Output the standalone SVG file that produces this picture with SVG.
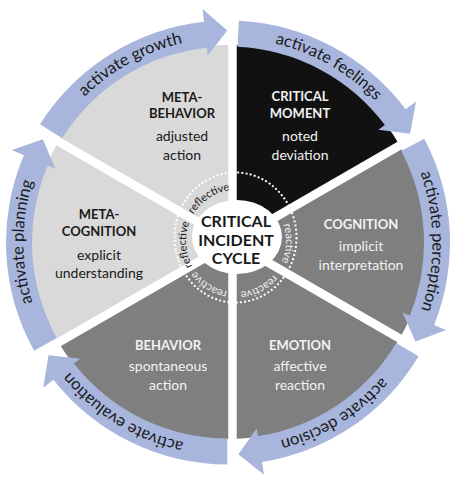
<svg xmlns="http://www.w3.org/2000/svg" width="452" height="480" viewBox="0 0 452 480">
<defs>
<style>
.light{fill:#d9d9d9}
.dark{fill:#7f7f7f}
.black{fill:#111111}
.arrow{fill:#a8b5dc}
.title{font-family:Lato,"Open Sans",sans-serif;font-weight:700;font-size:13px;text-anchor:middle}
.desc{font-family:Lato,"Open Sans",sans-serif;font-size:14px;text-anchor:middle}
.ondark{fill:#f2f2f2}
.onlight{fill:#1a1a1a}
.alabel{font-family:Lato,"Open Sans",sans-serif;font-size:16.5px;fill:#1a1a1a;text-anchor:middle}
.rlabel{font-family:Lato,"Open Sans",sans-serif;font-size:11px;text-anchor:middle}
.ctext{font-family:Lato,"Open Sans",sans-serif;font-weight:700;font-size:16px;fill:#1a1a1a;text-anchor:middle}
.spoke{stroke:#ffffff;stroke-width:8.5}
</style>
<path id="ringPath" d="M228,38 A204.5,204.5 0 1 1 228,447 A204.5,204.5 0 1 1 228,38"/>
<path id="hubPath" d="M236,190 A50,51 0 1 1 236,292 A50,51 0 1 1 236,190"/>
</defs>
<rect width="452" height="480" fill="#ffffff"/>

<g id="critical-moment">
<path class="black" d="M232.5,242 L232.5,45.05 A197,197 0 0 1 399.7,145.45 Z"/>
<text class="title ondark" x="300" y="101">CRITICAL</text>
<text class="title ondark" x="300" y="118">MOMENT</text>
<text class="desc ondark" x="300" y="141">noted</text>
<text class="desc ondark" x="300" y="159.5">deviation</text>
</g>
<g id="cognition">
<path class="dark" d="M232.5,242 L399.7,145.45 A197,197 0 0 1 399.7,338.55 Z"/>
<text class="title ondark" x="361" y="229">COGNITION</text>
<text class="desc ondark" x="361" y="251">implicit</text>
<text class="desc ondark" x="361" y="270">interpretation</text>
</g>
<g id="emotion">
<path class="dark" d="M232.5,242 L399.7,338.55 A197,197 0 0 1 232.5,438.95 Z"/>
<text class="title ondark" x="300" y="350">EMOTION</text>
<text class="desc ondark" x="300" y="371">affective</text>
<text class="desc ondark" x="300" y="390">reaction</text>
</g>
<g id="behavior">
<path class="dark" d="M232.5,242 L232.5,438.95 A197,197 0 0 1 58.53,342.44 Z"/>
<text class="title ondark" x="168" y="350">BEHAVIOR</text>
<text class="desc ondark" x="168" y="371">spontaneous</text>
<text class="desc ondark" x="168" y="390">action</text>
</g>
<g id="meta-cognition">
<path class="light" d="M232.5,242 L58.53,342.44 A197,197 0 0 1 58.53,141.56 Z"/>
<text class="title onlight" x="99" y="219">META-</text>
<text class="title onlight" x="99" y="236">COGNITION</text>
<text class="desc onlight" x="99" y="259.5">explicit</text>
<text class="desc onlight" x="99" y="278">understanding</text>
</g>
<g id="meta-behavior">
<path class="light" d="M232.5,242 L58.53,141.56 A197,197 0 0 1 232.5,45.05 Z"/>
<text class="title onlight" x="182" y="102">META-</text>
<text class="title onlight" x="182" y="118">BEHAVIOR</text>
<text class="desc onlight" x="182" y="141">adjusted</text>
<text class="desc onlight" x="182" y="159.5">action</text>
</g>

<g id="gaps">
<line class="spoke" x1="232.5" y1="242" x2="232.5" y2="27"/>
<line class="spoke" x1="232.5" y1="242" x2="418.7" y2="134.5"/>
<line class="spoke" x1="232.5" y1="242" x2="418.7" y2="349.5"/>
<line class="spoke" x1="232.5" y1="242" x2="232.5" y2="457"/>
<line class="spoke" x1="232.5" y1="242" x2="46.3" y2="349.5"/>
<line class="spoke" x1="232.5" y1="242" x2="46.3" y2="134.5"/>
</g>

<g id="hub">
<ellipse cx="237" cy="237" rx="45" ry="37" fill="#ffffff"/>
<ellipse cx="235.5" cy="237.5" rx="61" ry="65" fill="none" stroke="#ffffff" stroke-width="2" stroke-dasharray="2 2.2"/>
<text class="rlabel onlight"><textPath href="#hubPath" startOffset="288">reflective</textPath></text>
<text class="rlabel onlight"><textPath href="#hubPath" startOffset="234">reflective</textPath></text>
<text class="rlabel ondark"><textPath href="#hubPath" startOffset="81.5">reactive</textPath></text>
<text class="rlabel ondark"><textPath href="#hubPath" startOffset="135">reactive</textPath></text>
<text class="rlabel ondark"><textPath href="#hubPath" startOffset="186.5">reactive</textPath></text>
<text class="ctext" x="236" y="227">CRITICAL</text>
<text class="ctext" x="236" y="245.5">INCIDENT</text>
<text class="ctext" x="236" y="264">CYCLE</text>
</g>

<g id="connectors">
<path class="arrow" d="M238.84,20.76 A222,222 0 0 1 405.65,109.36 L416.05,101.57 L410.0,133.79 L378.44,129.75 L384.84,124.95 A196,196 0 0 0 237.57,46.73 Z"/>
<path class="arrow" d="M424.29,138.79 A222,222 0 0 1 434.05,325.12 L446.12,329.96 L415.45,341.54 L402.49,312.47 L409.92,315.45 A196,196 0 0 0 401.30,150.94 Z"/>
<path class="arrow" d="M418.59,356.34 A222,222 0 0 1 261.96,461.89 L263.95,474.73 L238.36,454.25 L256.76,428.29 L257.99,436.19 A196,196 0 0 0 396.27,343.01 Z"/>
<path class="arrow" d="M227.23,464.50 A222,222 0 0 1 53.44,379.67 L43.22,387.70 L48.53,355.35 L80.18,358.66 L73.89,363.60 A196,196 0 0 0 227.32,438.50 Z"/>
<path class="arrow" d="M34.13,350.67 A222,222 0 0 1 23.89,155.19 L11.94,150.07 L42.87,139.20 L55.15,168.56 L47.80,165.41 A196,196 0 0 0 56.84,338.00 Z"/>
<path class="arrow" d="M40.06,124.33 A222,222 0 0 1 204.02,21.80 L202.62,8.88 L227.26,30.50 L207.70,55.60 L206.83,47.65 A196,196 0 0 0 62.07,138.17 Z"/>
<text class="alabel"><textPath href="#ringPath" startOffset="106">activate feelings</textPath></text>
<text class="alabel"><textPath href="#ringPath" startOffset="320">activate perception</textPath></text>
<text class="alabel"><textPath href="#ringPath" startOffset="529">activate decision</textPath></text>
<text class="alabel"><textPath href="#ringPath" startOffset="755">activate evaluation</textPath></text>
<text class="alabel"><textPath href="#ringPath" startOffset="964">activate planning</textPath></text>
<text class="alabel"><textPath href="#ringPath" startOffset="1182">activate growth</textPath></text>
</g>
</svg>
